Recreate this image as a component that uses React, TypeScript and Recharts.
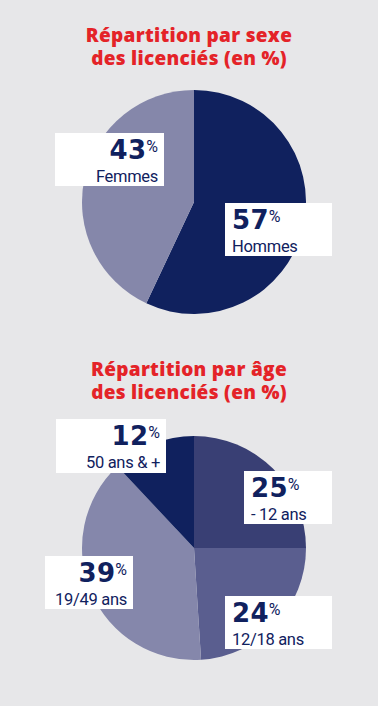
import { PieChart, Pie, Cell } from "recharts";

// répartition par sexe
const sexLabels = ["Hommes", "Femmes"];
const sexValues = [57, 43];
const sexColors = ["#10215e", "#8587aa"];

// répartition par âge
const ageLabels = ["- 12 ans", "12/18 ans", "19/49 ans", "50 ans & +"];
const ageValues = [25, 24, 39, 12];
const ageColors = ["#393f74", "#5a5e8f", "#8587ab", "#10215e"];

const titles = [
  ["Répartition par sexe", "des licenciés (en %)"],
  ["Répartition par âge", "des licenciés (en %)"],
];

const NAVY = "#10215e";
const RED = "#e42328";

const sexData = sexLabels.map((name, i) => ({ name, value: sexValues[i] }));
const ageData = ageLabels.map((name, i) => ({ name, value: ageValues[i] }));

// label box placement: left, top, width, height, align
type Box = { x: number; y: number; w: number; h: number; align: "left" | "right" };
const sexBoxes: Box[] = [
  { x: 225, y: 203, w: 107, h: 53, align: "left" },
  { x: 55, y: 133, w: 109, h: 53, align: "right" },
];
const ageBoxes: Box[] = [
  { x: 244, y: 471, w: 88, h: 53, align: "left" },
  { x: 225, y: 596, w: 107, h: 53, align: "left" },
  { x: 45, y: 556, w: 88, h: 53, align: "right" },
  { x: 56, y: 419, w: 110, h: 54, align: "right" },
];

function Title({ lines, top }: { lines: string[]; top: number }) {
  return (
    <div
      style={{
        position: "absolute",
        left: 0,
        width: 378,
        top,
        textAlign: "center",
        color: RED,
        fontFamily: "'Open Sans', sans-serif",
        fontWeight: 800,
        fontSize: 19,
        lineHeight: "23px",
        letterSpacing: 0.3,
      }}
    >
      {lines.map((l) => (
        <div key={l}>{l}</div>
      ))}
    </div>
  );
}

function LabelBox({ box, value, label }: { box: Box; value: number; label: string }) {
  return (
    <div
      style={{
        position: "absolute",
        left: box.x,
        top: box.y,
        width: box.w,
        height: box.h,
        background: "#fff",
        boxSizing: "border-box",
        padding: box.align === "right" ? "4px 6px 0 0" : "4px 0 0 7px",
        textAlign: box.align,
        color: NAVY,
      }}
    >
      <div style={{ lineHeight: "27px", whiteSpace: "nowrap" }}>
        <span
          style={{
            fontFamily: "'DejaVu Sans', sans-serif",
            fontWeight: 700,
            fontSize: 26,
            letterSpacing: 0.3,
          }}
        >
          {value}
        </span>
        <span
          style={{
            fontFamily: "Roboto, sans-serif",
            fontSize: 16,
            verticalAlign: "top",
            position: "relative",
            top: -4,
          }}
        >
          %
        </span>
      </div>
      <div
        style={{
          fontFamily: "Roboto, sans-serif",
          fontSize: 16.5,
          lineHeight: "19px",
          whiteSpace: "nowrap",
          letterSpacing: -0.3,
        }}
      >
        {label}
      </div>
    </div>
  );
}

export default function App() {
  return (
    <div
      style={{
        position: "fixed",
        left: 0,
        top: 0,
        width: 378,
        height: 706,
        background: "#e7e7e9",
        overflow: "hidden",
      }}
    >
      <Title lines={titles[0]} top={24} />
      <Title lines={titles[1]} top={358} />
      <div style={{ position: "absolute", left: 0, top: 0 }}>
        <PieChart width={378} height={706} margin={{ top: 0, right: 0, bottom: 0, left: 0 }}>
          <Pie
            data={sexData}
            dataKey="value"
            nameKey="name"
            cx={194}
            cy={202}
            outerRadius={112}
            startAngle={90}
            endAngle={-270}
            stroke="none"
            isAnimationActive={false}
          >
            {sexData.map((d, i) => (
              <Cell key={d.name} fill={sexColors[i]} />
            ))}
          </Pie>
          <Pie
            data={ageData}
            dataKey="value"
            nameKey="name"
            cx={194}
            cy={548}
            outerRadius={112}
            startAngle={90}
            endAngle={-270}
            stroke="none"
            isAnimationActive={false}
          >
            {ageData.map((d, i) => (
              <Cell key={d.name} fill={ageColors[i]} />
            ))}
          </Pie>
        </PieChart>
      </div>
      {sexData.map((d, i) => (
        <LabelBox key={d.name} box={sexBoxes[i]} value={d.value} label={d.name} />
      ))}
      {ageData.map((d, i) => (
        <LabelBox key={d.name} box={ageBoxes[i]} value={d.value} label={d.name} />
      ))}
    </div>
  );
}
